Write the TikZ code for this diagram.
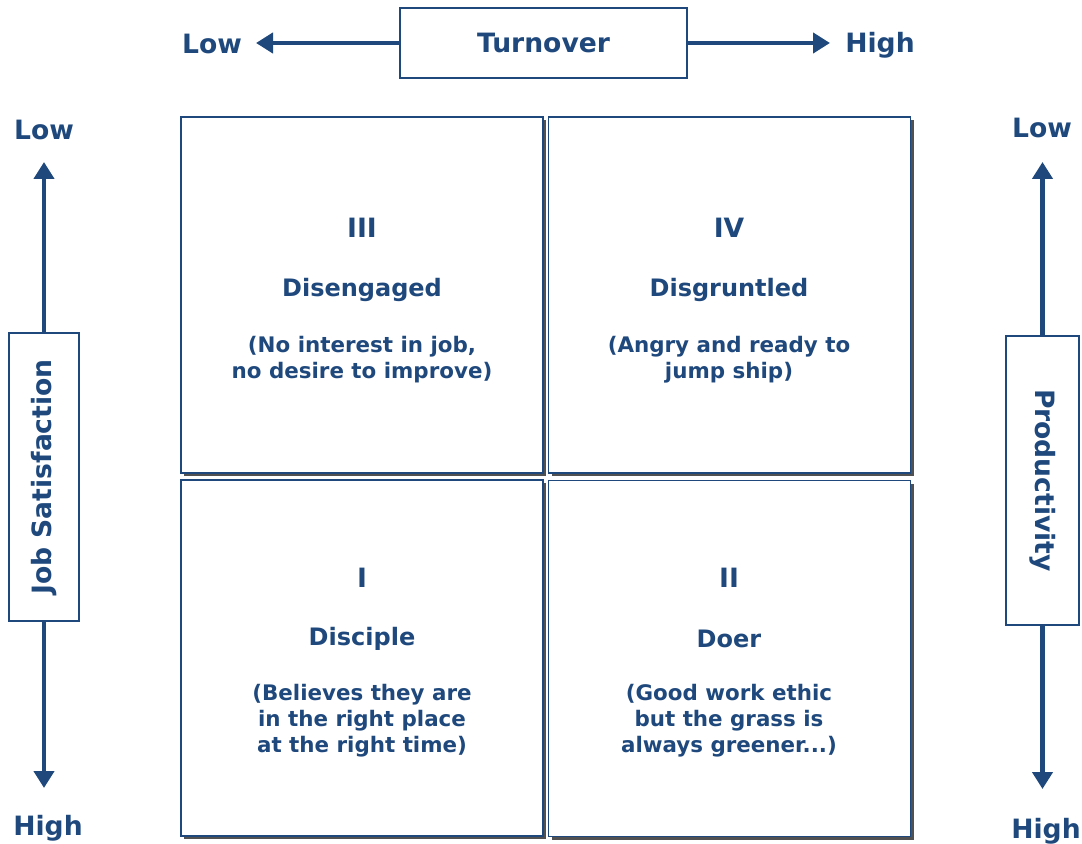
\documentclass[tikz,border=0pt]{standalone}
\usepackage{fontspec}
\setmainfont{DejaVu Sans}
\usetikzlibrary{arrows.meta,shadows}
\definecolor{navy}{RGB}{31,73,125}

\begin{document}
\begin{tikzpicture}[x=0.5pt, y=-0.5pt,
	every node/.style={text=navy, font=\bfseries\fontsize{13.3}{16}\selectfont},
	frame/.style={draw=navy, line width=0.7pt, fill=white, inner sep=0pt},
	cell/.style={frame, minimum width=181pt, minimum height=178pt, drop shadow={shadow xshift=1.6pt, shadow yshift=-1.6pt, fill=black!80, opacity=0.85}},
	arr/.style={draw=navy, line width=2.3pt, -{Triangle[length=8.5pt,width=10pt]}},
	note/.style={font=\bfseries\fontsize{10.7}{13}\selectfont, align=center}]
				\useasboundingbox (0,0) rectangle (1082,844);

				% turnover axis
				\node[frame, minimum width=143.5pt, minimum height=35pt] (turnover) at (543.5,43) {Turnover};
				\node (turnlow) at (212,44) {Low};
				\node (turnhigh) at (880,45) {High};
				\coordinate (turnleft) at (256,43);
				\coordinate (turnright) at (830,43);
				\draw[arr] (turnover.west) -- (turnleft);
				\draw[arr] (turnover.east) -- (turnright);

				% job satisfaction axis
				\node[frame, minimum width=35pt, minimum height=144pt] (job) at (44,477) {};
				\node[rotate=90] at (job) {Job Satisfaction};
				\node (joblow) at (44,130) {Low};
				\node (jobhigh) at (48,828) {High};
				\coordinate (jobup) at (44,162);
				\coordinate (jobdown) at (44,788);
				\draw[arr] (job.north) -- (jobup);
				\draw[arr] (job.south) -- (jobdown);

				% productivity axis
				\node[frame, minimum width=36.5pt, minimum height=144.5pt] (prod) at (1042.5,480.5) {};
				\node[rotate=-90] at (prod) {Productivity};
				\node (prodlow) at (1042,128) {Low};
				\node (prodhigh) at (1046,831) {High};
				\coordinate (produp) at (1042.5,162);
				\coordinate (proddown) at (1042.5,789);
				\draw[arr] (prod.north) -- (produp);
				\draw[arr] (prod.south) -- (proddown);

				% quadrants
				\node[cell] (disengaged) at (362,295) {};
				\node[cell] (disgruntled) at (729.5,295) {};
				\node[cell] (disciple) at (362,658) {};
				\node[cell] (doer) at (729.5,658.5) {};

				\node at (362,228) {III};
				\node[font=\bfseries\fontsize{12}{14}\selectfont] at (362,290) {Disengaged};
				\node[note] at (362,360) {(No interest in job,\\no desire to improve)};

				\node at (729,228) {IV};
				\node[font=\bfseries\fontsize{12}{14}\selectfont] at (729,290) {Disgruntled};
				\node[note] at (729,360) {(Angry and ready to\\jump ship)};

				\node at (362,578) {I};
				\node[font=\bfseries\fontsize{12}{14}\selectfont] at (362,639) {Disciple};
				\node[note] at (362,721) {(Believes they are\\in the right place\\at the right time)};

				\node at (729,578) {II};
				\node[font=\bfseries\fontsize{12}{14}\selectfont] at (729,639) {Doer};
				\node[note] at (729,721) {(Good work ethic\\but the grass is\\always greener...)};
			\end{tikzpicture}
\end{document}
